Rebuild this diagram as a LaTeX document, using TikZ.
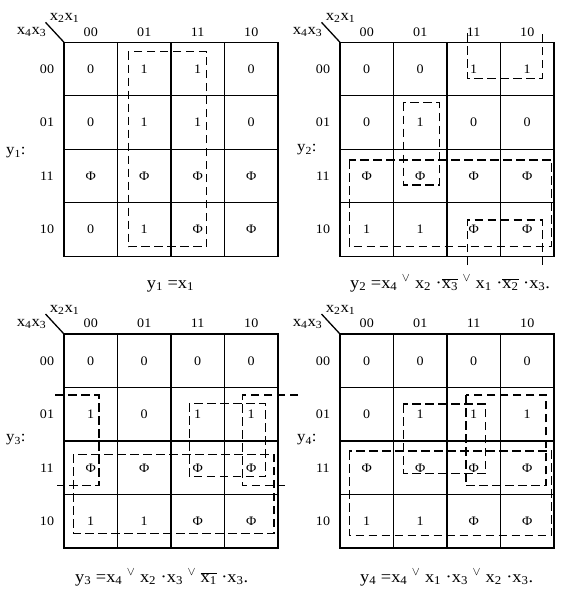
\documentclass[tikz,border=0pt]{standalone}
\usepackage{fontspec}
\setmainfont[FakeStretch=1.08]{Liberation Serif}
\newcommand\ovl[1]{$\overline{\hbox{#1}}$}
\newcommand\orv{$^{\vee}$}
\newcommand\kmap[4]{%
  \draw[gridln] (#1,#2) rectangle ++(214,214);
  \foreach \i in {1,2,3} {
    \draw[gridln] (#1+\i*53.5,#2) -- ++(0,214);
    \draw[gridln] (#1,#2+\i*53.5) -- ++(214,0);
  }
  \foreach \h [count=\k from 0] in {00,01,11,10} {
    \node[lab] (#3-ch\k) at (#1+26.75+\k*53.5, #2-10.5) {\h};
    \node[lab] (#3-rh\k) at (#1-17, #2+26.75+\k*53.5) {\h};
  }
  \foreach \v [count=\k from 0] in {#4} {
    \pgfmathtruncatemacro\myr{int(\k/4)}
    \pgfmathtruncatemacro\myc{mod(\k,4)}
    \node[lab] (#3-\myc-\myr) at (#1+26.75+\myc*53.5, #2+26.75+\myr*53.5) {\v};
  }
  \node[big] (#3-top) at (#1+0.5, #2-24) {x\textsubscript{2}x\textsubscript{1}};
  \node[big] (#3-left) at (#1-32.5, #2-10) {x\textsubscript{4}x\textsubscript{3}};
  \coordinate (#3-d1) at (#1-18.5,#2-20);
  \coordinate (#3-d2) at (#1,#2);
  \draw[gridln] (#3-d1) -- (#3-d2);
}
\begin{document}
\begin{tikzpicture}[x=1pt,y=-1pt,
  gridln/.style={line width=1.3pt},
  grp/.style={line width=1.3pt, dash pattern=on 8.5pt off 4.5pt},
  lab/.style={font=\fontsize{13}{15}\selectfont, inner sep=0pt},
  big/.style={font=\fontsize{15.5}{17}\selectfont, inner sep=0pt},
  eq/.style={font=\fontsize{17}{19}\selectfont, inner sep=0pt, anchor=base west},
]
\useasboundingbox (0,0) rectangle (565,590);

\kmap{64}{42.3}{m1}{0,1,1,0, 0,1,1,0, Φ,Φ,Φ,Φ, 0,1,Φ,Φ}
\kmap{340}{42.3}{m2}{0,0,1,1, 0,1,0,0, Φ,Φ,Φ,Φ, 1,1,Φ,Φ}
\kmap{64}{334}{m3}{0,0,0,0, 1,0,1,1, Φ,Φ,Φ,Φ, 1,1,Φ,Φ}
\kmap{340}{334}{m4}{0,0,0,0, 0,1,1,1, Φ,Φ,Φ,Φ, 1,1,Φ,Φ}

\node[big, anchor=west] (y1) at (6,153) {y\textsubscript{1}:};
\node[big, anchor=west] (y2) at (297,150) {y\textsubscript{2}:};
\node[big, anchor=west] (y3) at (6,440) {y\textsubscript{3}:};
\node[big, anchor=west] (y4) at (297,440) {y\textsubscript{4}:};

% map 1 groups
\draw[grp] (128.3,51.7) rectangle (206.7,246.7);

% map 2 groups
\draw[grp] (467.7,33) -- (467.7,78.3) -- (542.3,78.3) -- (542.3,33);
\draw[grp] (467.7,265) -- (467.7,220) -- (542.3,220) -- (542.3,265);
\draw[grp] (403.3,102.7) rectangle (439.3,185);
\draw[grp] (349.3,160) rectangle (551.7,246.7);

% map 3 groups
\draw[grp] (55,395) -- (99,395) -- (99,485.7) -- (57,485.7);
\draw[grp] (298,395) -- (242.3,395) -- (242.3,485.7) -- (285,485.7);
\draw[grp] (189.3,403.3) rectangle (265.7,476.7);
\draw[grp] (73.3,454.3) rectangle (274,533.3);

% map 4 groups
\draw[grp] (403.3,404) rectangle (485.7,473.3);
\draw[grp] (466,395) rectangle (546,485.7);
\draw[grp] (349.3,451) rectangle (551.7,535.7);

% equations
\node[eq] (e1) at (146.7,288) {y\textsubscript{1} =x\textsubscript{1}};
\node[eq] (e2) at (350,288) {y\textsubscript{2} =x\textsubscript{4} \orv{} x\textsubscript{2} ·\ovl{x\textsubscript{3}} \orv{} x\textsubscript{1} ·\ovl{x\textsubscript{2}} ·x\textsubscript{3}.};
\node[eq] (e3) at (75,582) {y\textsubscript{3} =x\textsubscript{4} \orv{} x\textsubscript{2} ·x\textsubscript{3} \orv{} \ovl{x\textsubscript{1}} ·x\textsubscript{3}.};
\node[eq] (e4) at (360,582) {y\textsubscript{4} =x\textsubscript{4} \orv{} x\textsubscript{1} ·x\textsubscript{3} \orv{} x\textsubscript{2} ·x\textsubscript{3}.};
\end{tikzpicture}
\end{document}
